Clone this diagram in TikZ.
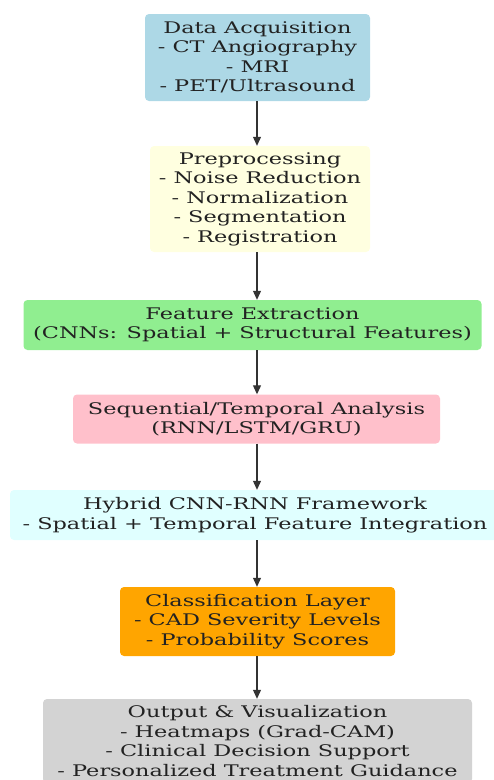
\documentclass[tikz,border=0pt]{standalone}
\usepackage{fontspec}
\setmainfont[FakeStretch=1.4]{DejaVu Serif}
\usetikzlibrary{arrows.meta}
\definecolor{cA}{HTML}{ADD8E6}
\definecolor{cB}{HTML}{FFFFE0}
\definecolor{cC}{HTML}{90EE90}
\definecolor{cD}{HTML}{FFC0CB}
\definecolor{cE}{HTML}{E0FFFF}
\definecolor{cF}{HTML}{FFA500}
\definecolor{cG}{HTML}{D3D3D3}
\definecolor{txt}{HTML}{222222}
\begin{document}
\begin{tikzpicture}[x=1pt,y=-1pt,
  box/.style={rounded corners=4pt, inner sep=0pt, align=center, text=txt,
    font=\fontsize{16}{19.5}\selectfont},
  arr/.style={draw=black!80, line width=1.1pt, -{Triangle[length=9pt,width=8pt]}}]
\useasboundingbox (0,0) rectangle (494,780);
\node[box, fill=cA, minimum width=225pt, minimum height=87pt] (a) at (257.5,57.5)
  {Data Acquisition\\- CT Angiography\\- MRI\\- PET/Ultrasound};
\node[box, fill=cB, minimum width=220pt, minimum height=106pt] (b) at (260,199)
  {Preprocessing\\- Noise Reduction\\- Normalization\\- Segmentation\\- Registration};
\node[box, fill=cC, minimum width=458pt, minimum height=50pt] (c) at (252.5,325)
  {Feature Extraction\\(CNNs: Spatial + Structural Features)};
\node[box, fill=cD, minimum width=367pt, minimum height=49pt] (d) at (256.5,419)
  {Sequential/Temporal Analysis\\(RNN/LSTM/GRU)};
\node[box, fill=cE, minimum width=490pt, minimum height=50pt] (e) at (255,515)
  {Hybrid CNN-RNN Framework\\- Spatial + Temporal Feature Integration};
\node[box, fill=cF, minimum width=275pt, minimum height=69pt] (f) at (257.5,621.5)
  {Classification Layer\\- CAD Severity Levels\\- Probability Scores};
\node[box, fill=cG, minimum width=429pt, minimum height=84pt] (g) at (257.5,741)
  {Output \& Visualization\\- Heatmaps (Grad-CAM)\\- Clinical Decision Support\\- Personalized Treatment Guidance};
\draw[arr] (a.south -| 257,0) -- (b.north -| 257,0);
\draw[arr] (b.south -| 257,0) -- (c.north -| 257,0);
\draw[arr] (c.south -| 257,0) -- (d.north -| 257,0);
\draw[arr] (d.south -| 257,0) -- (e.north -| 257,0);
\draw[arr] (e.south -| 257,0) -- (f.north -| 257,0);
\draw[arr] (f.south -| 257,0) -- (g.north -| 257,0);
\end{tikzpicture}
\end{document}
